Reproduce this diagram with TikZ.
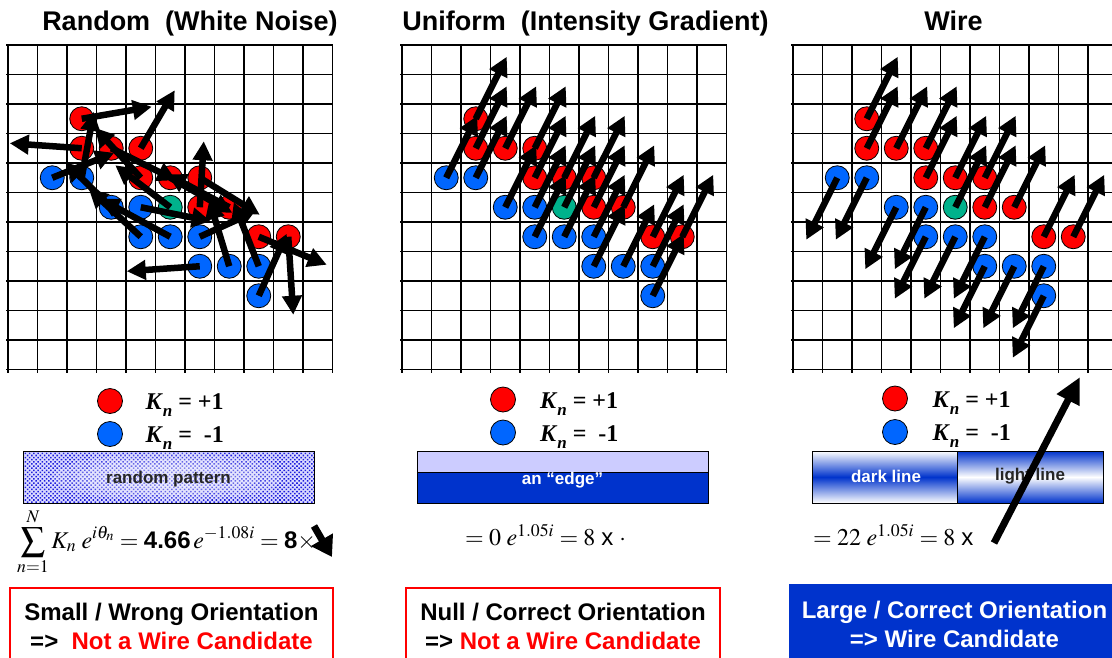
\documentclass[tikz,border=0pt]{standalone}
\usepackage{mathptmx}
\usepackage{fontspec}
\setmainfont{Liberation Serif}
\setsansfont{Liberation Sans}
\usetikzlibrary{arrows.meta, patterns.meta, calc}

\definecolor{kred}{RGB}{255,0,0}
\definecolor{kblue}{RGB}{0,102,255}
\definecolor{kgreen}{RGB}{0,178,140}
\definecolor{barblue}{RGB}{0,51,204}
\definecolor{dotblue}{RGB}{30,30,220}
\definecolor{lavender}{RGB}{204,204,255}

% dots: column/row/colour (same layout in all three panels)
\def\dotlist{2/2/kred, 2/3/kred, 3/3/kred, 4/3/kred, 4/4/kred, 5/4/kred, 6/4/kred,
  6/5/kred, 7/5/kred, 8/6/kred, 9/6/kred, 1/4/kblue, 2/4/kblue, 3/5/kblue, 4/5/kblue,
  5/5/kgreen, 4/6/kblue, 5/6/kblue, 6/6/kblue, 6/7/kblue, 7/7/kblue, 8/7/kblue, 8/8/kblue}
% random orientations (dx/dy per dot)
\def\randvec{70/-12, -72/-5, 65/32, 34/-58, -46/-50, 62/35, 60/37, 4/-66, -62/-33,
  68/28, 5/78, 62/-25, 12/-66, -46/-45, 70/14, -55/-42, -52/-48, -70/-38, 55/-25,
  -73/5, -20/-66, -25/-64, 28/-62}
% wire: +1 up, -1 down
\def\wiresign{1,1,1,1,1,1,1,1,1,1,1,-1,-1,-1,-1,1,-1,-1,-1,-1,-1,-1,-1}

\newcommand{\Kn}{\textit{K}\raisebox{-0.32em}{\textit{\fontsize{17}{17}\selectfont n}}}

% grid + dots, #1 = prefix, #2 = left edge
\newcommand{\kgrid}[2]{%
  \foreach \k in {0,...,11} {
    \draw[gridline] ({#2-2},{45+29.5*\k}) -- ({#2+324.5},{45+29.5*\k});
    \draw[gridline] ({#2+29.5*\k},45) -- ({#2+29.5*\k},373);
  }
  \foreach \c/\r/\col [count=\i] in \dotlist
    \node[kdot, fill=\col] (#1-\i) at ({#2+29.5*(\c+0.5)},{45+29.5*(\r+0.5)}) {};
}

\begin{document}
\begin{tikzpicture}[
  x=1pt, y=-1pt,
  gridline/.style={line width=1.1pt, black},
  kdot/.style={circle, draw=black, line width=0.8pt, minimum size=24pt, inner sep=0pt},
  kvec/.style={line width=6.5pt, -{Triangle[length=19pt, width=19pt]}},
  paneltitle/.style={anchor=base, font=\sffamily\bfseries\fontsize{27}{30}\selectfont},
  keydot/.style={circle, draw=black, line width=0.8pt, minimum size=25pt, inner sep=0pt},
  keytext/.style={anchor=base west, font=\bfseries\fontsize{24}{26}\selectfont},
  bartext/.style={font=\sffamily\bfseries\fontsize{17}{19}\selectfont},
  sumtext/.style={anchor=base west, inner sep=0pt, font=\fontsize{24}{28}\selectfont},
  verdict/.style={align=center, inner sep=0pt, font=\sffamily\bfseries\fontsize{24}{29}\selectfont},
]
\clip (0,0) rectangle (1112,657);

% titles
\node[paneltitle] (title1) at (190,30) {Random\ \ (White Noise)};
\node[paneltitle] (title2) at (585.5,30) {Uniform\ \ (Intensity Gradient)};
\node[paneltitle] (title3) at (953.5,30) {Wire};

% grids
\kgrid{p1}{8}
\kgrid{p2}{402}
\kgrid{p3}{793}

% random panel
\foreach \dx/\dy [count=\i] in \randvec {
  \coordinate (t1-\i) at ($(p1-\i)+(\dx,\dy)$);
  \draw[kvec] (p1-\i.center) -- (t1-\i);
}
% uniform panel
\foreach \i in {1,...,23} {
  \coordinate (t2-\i) at ($(p2-\i)+(31,-62)$);
  \draw[kvec] (p2-\i.center) -- (t2-\i);
}
% wire panel
\foreach \s [count=\i] in \wiresign {
  \coordinate (t3-\i) at ($(p3-\i)+({31*\s},{-62*\s})$);
  \draw[kvec] (p3-\i.center) -- (t3-\i);
}

% keys
\node[keydot, fill=kred] (k1a) at (110,401) {};
\node[keydot, fill=kblue] (k1b) at (110,434) {};
\node[keytext] (k1p) at (142,409) {\Kn\ = +1};
\node[keytext] (k1m) at (142,442) {\Kn\ =\ \ -1};
\node[keydot, fill=kred] (k2a) at (503,399.5) {};
\node[keydot, fill=kblue] (k2b) at (503,432.5) {};
\node[keytext] (k2p) at (536.5,408) {\Kn\ = +1};
\node[keytext] (k2m) at (536.5,441) {\Kn\ =\ \ -1};
\node[keydot, fill=kred] (k3a) at (895,398.5) {};
\node[keydot, fill=kblue] (k3b) at (895,432) {};
\node[keytext] (k3p) at (929,407) {\Kn\ = +1};
\node[keytext] (k3m) at (929,440) {\Kn\ =\ \ -1};

% sample bars
\fill[lavender!70] (23,451) rectangle (314,503);
\fill[pattern={Dots[distance=3pt, radius=1.1pt, angle=45]}, pattern color=dotblue] (23,451) rectangle (314,503);
\fill[white, opacity=0.18] (168.5,477) ellipse (115 and 24);
\fill[white, opacity=0.18] (168.5,477) ellipse (90 and 18);
\fill[white, opacity=0.18] (168.5,477) ellipse (65 and 12);
\draw[line width=0.8pt] (23,451) rectangle (314,503);
\node[bartext, text=black!85] (bar1) at (168.5,479) {random pattern};

\fill[lavender] (417,451) rectangle (708,472);
\fill[barblue] (417,472) rectangle (708,503);
\draw[line width=0.8pt] (417,451) rectangle (708,503) (417,472) -- (708,472);
\node[bartext, text=white] (bar2) at (562.5,480) {an “edge”};

\shade[top color=white, bottom color=white, middle color=barblue] (812,451) rectangle (957,503);
\shade[top color=barblue, bottom color=barblue, middle color=white] (957,451) rectangle (1103,503);
\draw[line width=0.8pt] (812,451) rectangle (1103,503) (957,451) -- (957,503);
\node[bartext, text=white] (bar3a) at (886,476) {dark line};
\node[bartext, text=black!85] (bar3b) at (1030,476) {light line};

% sums
\node[sumtext] (f1) at (17,548) {$\displaystyle\sum_{n=1}^{N} K_n\; e^{i\theta_n} = \textsf{\textbf{4.66}}\, e^{-1.08i} = \textsf{\textbf{8}}\times$};
\coordinate (s1a) at (314,526);
\coordinate (s1b) at (332,557);
\draw[line width=7pt, -{Triangle[length=20pt, width=24pt]}] (s1a) -- (s1b);

\node[sumtext] (f2) at (465,545) {$= 0\; e^{1.05i} = 8$ \textsf{x} $\cdot$};

\node[sumtext] (f3) at (813,545) {$= 22\; e^{1.05i} = 8$ \textsf{x}};
\coordinate (w0) at (994,543);
\coordinate (w1) at (1080,377);
\draw[line width=7pt, -{Triangle[length=26pt, width=24pt]}] (w0) -- (w1);

% verdicts
\node[verdict, draw=kred, line width=1.2pt, minimum width=323pt, minimum height=76pt] (v1) at (171.5,626)
  {Small / Wrong Orientation\\=>\ \ \textcolor{kred}{Not a Wire Candidate}};
\node[verdict, draw=kred, line width=1.2pt, minimum width=314pt, minimum height=76pt] (v2) at (563,626)
  {Null / Correct Orientation\\=> \textcolor{kred}{Not a Wire Candidate}};
\node[verdict, fill=barblue, text=white, minimum width=331pt, minimum height=80pt] (v3) at (954.5,624)
  {Large / Correct Orientation\\=> Wire Candidate};
\end{tikzpicture}
\end{document}
